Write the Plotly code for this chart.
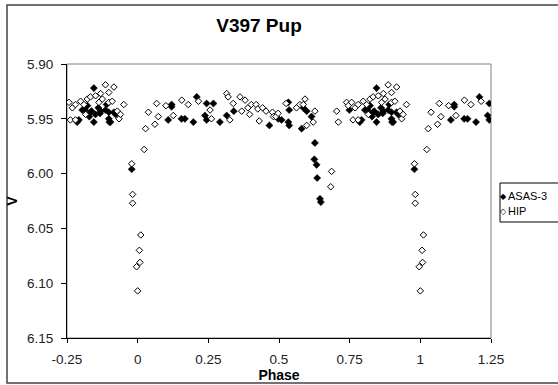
import plotly.graph_objects as go

# Base phase-folded data (phase in [0,1)); plotted range -0.25..1.25 repeats cycle
asas_phase = [0.108, 0.120, 0.155, 0.167, 0.197, 0.209, 0.238, 0.244, 0.268, 0.291,
              0.315, 0.340, 0.466, 0.497, 0.509, 0.533, 0.536, 0.533, 0.536, 0.580,
              0.586, 0.598, 0.615, 0.627, 0.625, 0.633, 0.635, 0.645, 0.648, 0.749,
              0.786, 0.792, 0.804, 0.814, 0.822, 0.829, 0.833, 0.837, 0.845, 0.845,
              0.851, 0.861, 0.867, 0.869, 0.886, 0.890, 0.898, 0.898, 0.900, 0.904,
              0.916, 0.922, 0.979, 0.120, 0.244]
asas_v = [5.951, 5.939, 5.950, 5.950, 5.953, 5.930, 5.947, 5.951, 5.936, 5.953,
          5.947, 5.943, 5.956, 5.950, 5.951, 5.935, 5.942, 5.953, 5.956, 5.959,
          5.940, 5.943, 5.948, 5.972, 5.987, 5.992, 6.004, 6.023, 6.026, 5.942,
          5.953, 5.951, 5.942, 5.942, 5.938, 5.948, 5.944, 5.943, 5.922, 5.953,
          5.946, 5.940, 5.945, 5.943, 5.942, 5.937, 5.944, 5.950, 5.953, 5.953,
          5.944, 5.946, 5.996, 5.937, 5.936]

hip_phase = [0.000, 0.006, 0.008, 0.011, 0.023, 0.028, 0.038, 0.061, 0.067, 0.073,
             0.100, 0.126, 0.156, 0.179, 0.215, 0.256, 0.261, 0.315, 0.320, 0.326,
             0.338, 0.362, 0.368, 0.380, 0.390, 0.396, 0.402, 0.419, 0.425, 0.430,
             0.442, 0.454, 0.477, 0.480, 0.489, 0.497, 0.525, 0.562, 0.574, 0.586,
             0.592, 0.598, 0.621, 0.627, 0.683, 0.686, 0.704, 0.710, 0.739, 0.745,
             0.757, 0.762, 0.769, 0.780, 0.780, 0.798, 0.810, 0.816, 0.822, 0.833,
             0.851, 0.863, 0.869, 0.875, 0.886, 0.898, 0.898, 0.910, 0.916, 0.928,
             0.934, 0.939, 0.951, 0.979, 0.982, 0.982, 0.996]
hip_v = [6.107, 6.070, 6.081, 6.056, 5.978, 5.959, 5.944, 5.955, 5.936, 5.948,
         5.938, 5.947, 5.933, 5.937, 5.934, 5.942, 5.950, 5.927, 5.930, 5.951,
         5.936, 5.930, 5.943, 5.933, 5.940, 5.946, 5.937, 5.937, 5.941, 5.952,
         5.940, 5.943, 5.944, 5.948, 5.948, 5.945, 5.936, 5.940, 5.937, 5.937,
         5.932, 5.956, 5.953, 5.943, 6.012, 5.998, 5.943, 5.953, 5.935, 5.938,
         5.935, 5.951, 5.940, 5.937, 5.951, 5.934, 5.937, 5.946, 5.932, 5.930,
         5.929, 5.935, 5.927, 5.932, 5.919, 5.926, 5.935, 5.934, 5.921, 5.943,
         5.950, 5.946, 5.937, 5.991, 6.019, 6.027, 6.085]

series_names = ["ASAS-3", "HIP"]
x_ticks = [-0.25, 0, 0.25, 0.5, 0.75, 1, 1.25]
x_range = [-0.25, 1.25]
y_range = [6.15, 5.90]


def extend(ph, v):
    xs, ys = [], []
    for p, m in zip(ph, v):
        for s in (-1, 0, 1):
            q = p + s
            if x_range[0] <= q <= x_range[1]:
                xs.append(q)
                ys.append(m)
    return xs, ys


ax, ay = extend(asas_phase, asas_v)
hx, hy = extend(hip_phase, hip_v)

FONT = "Arial, Liberation Sans, sans-serif"
W, H = 558, 385
L, R, T, B = 67, 67, 64, 47
PW, PH = W - L - R, H - T - B


def px(xp):
    return (xp - L) / PW


def py(yp):
    return (H - B - yp) / PH


fig = go.Figure()
fig.add_trace(go.Scatter(x=ax, y=ay, mode="markers", name=series_names[0],
                         marker=dict(symbol="diamond", size=5.5, color="black",
                                     line=dict(color="black", width=0.5))))
fig.add_trace(go.Scatter(x=hx, y=hy, mode="markers", name=series_names[1],
                         marker=dict(symbol="diamond", size=5, color="white",
                                     line=dict(color="black", width=1))))

annotations = [
    dict(text="◆", x=px(503), y=py(196), xref="paper", yref="paper",
         xanchor="center", yanchor="middle", showarrow=False,
         font=dict(family="DejaVu Sans", size=8, color="black")),
    dict(text=series_names[0], x=px(506), y=py(196), xref="paper", yref="paper",
         xanchor="left", yanchor="middle", showarrow=False,
         font=dict(family=FONT, size=11, color="black")),
    dict(text="◇", x=px(503), y=py(211), xref="paper", yref="paper",
         xanchor="center", yanchor="middle", showarrow=False,
         font=dict(family="DejaVu Sans", size=8, color="black")),
    dict(text=series_names[1], x=px(506), y=py(211), xref="paper", yref="paper",
         xanchor="left", yanchor="middle", showarrow=False,
         font=dict(family=FONT, size=11, color="black")),
]

fig.update_layout(
    width=W, height=H,
    margin=dict(l=L, r=R, t=T, b=B, autoexpand=False),
    paper_bgcolor="white", plot_bgcolor="white",
    font=dict(family=FONT, size=13, color="#222"),
    title=dict(text="<b>V397 Pup</b>", x=259 / W, xanchor="center",
               y=1 - 25 / H, yanchor="middle",
               font=dict(family=FONT, size=19, color="black")),
    showlegend=False,
    annotations=annotations,
    xaxis=dict(range=x_range, tickvals=x_ticks,
               ticktext=[f"{t:g}" for t in x_ticks],
               ticks="outside", ticklen=4, tickcolor="black", tickwidth=1,
               showline=True, linecolor="black", linewidth=1,
               showgrid=False, zeroline=False, ticklabelstandoff=5,
               tickfont=dict(family=FONT, size=13.5, color="#222"),
               title=dict(text="<b>Phase</b>", standoff=1,
                          font=dict(family=FONT, size=14, color="black"))),
    yaxis=dict(range=y_range, dtick=0.05, tick0=5.90, tickformat=".2f",
               ticks="outside", ticklen=5, tickcolor="black", tickwidth=1,
               showline=True, linecolor="black", linewidth=1,
               showgrid=False, zeroline=False, ticklabelstandoff=5,
               tickfont=dict(family=FONT, size=13.5, color="#222"),
               title=dict(text="<b>V</b>", standoff=6,
                          font=dict(family=FONT, size=14, color="black"))),
    xaxis2=dict(range=x_range, tickvals=x_ticks, overlaying="x", anchor="y",
                side="bottom", ticks="inside", ticklen=4, tickcolor="black",
                showticklabels=False, showline=False, showgrid=False, zeroline=False),
    yaxis2=dict(range=y_range, dtick=0.05, tick0=5.90, overlaying="y", anchor="x",
                side="left", ticks="inside", ticklen=5, tickcolor="black",
                showticklabels=False, showline=False, showgrid=False, zeroline=False),
    shapes=[
        dict(type="rect", xref="paper", yref="paper", x0=0, x1=1, y0=0, y1=1,
             line=dict(color="#808080", width=1), layer="below"),
        dict(type="rect", xref="paper", yref="paper",
             x0=px(7), x1=px(580), y0=py(383), y1=py(5),
             line=dict(color="#444", width=1.5), layer="below"),
        dict(type="rect", xref="paper", yref="paper",
             x0=px(500), x1=px(575), y0=py(222), y1=py(183),
             line=dict(color="black", width=1), fillcolor="white", layer="above"),
    ],
)

fig.write_html("out.html")
